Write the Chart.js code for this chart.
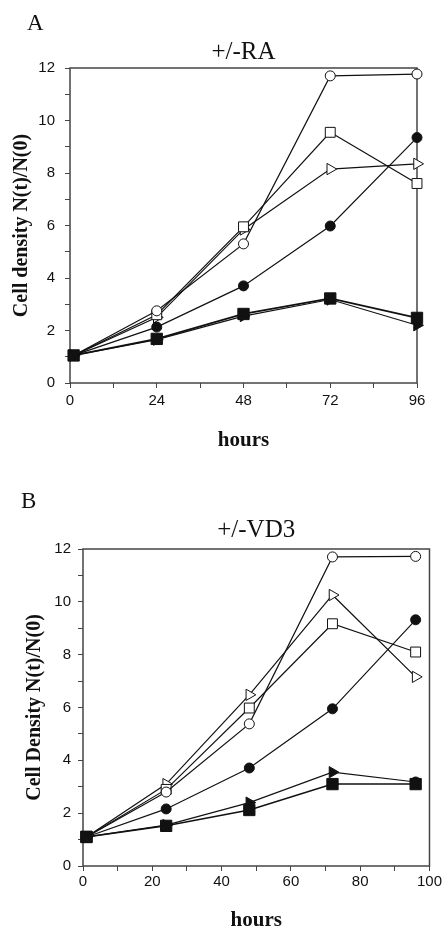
<!DOCTYPE html>
<html>
<head>
<meta charset="utf-8">
<script src="https://cdn.jsdelivr.net/npm/chart.js@4/dist/chart.umd.min.js"></script>
<style>
  html, body { margin: 0; padding: 0; background: #fff; }
  #wrap { position: relative; width: 444px; height: 933px; }
  canvas { position: absolute; left: 0; }
  #chartA { top: 0; }
  #chartB { top: 466px; }
</style>
</head>
<body>
<div id="wrap">
  <canvas id="chartA" width="444" height="466"></canvas>
  <canvas id="chartB" width="444" height="467"></canvas>
</div>
<script>
// time points (hours)
const hoursA = [1, 24, 48, 72, 96];
const hoursB = [1, 24, 48, 72, 96];

// panel A: +/-RA
const raOpenCircle = [1.05, 2.75, 5.3, 11.7, 11.77];
const raOpenSquare = [1.05, 2.6, 5.95, 9.55, 7.6];
const raOpenTriangle = [1.05, 2.5, 5.85, 8.15, 8.35];
const raFilledCircle = [1.05, 2.13, 3.7, 5.98, 9.35];
const raFilledSquare = [1.05, 1.68, 2.63, 3.22, 2.48];
const raFilledTriangle = [1.05, 1.65, 2.55, 3.18, 2.2];

// panel B: +/-VD3
const vdOpenCircle = [1.1, 2.8, 5.38, 11.7, 11.72];
const vdOpenSquare = [1.1, 2.9, 5.98, 9.17, 8.1];
const vdOpenTriangle = [1.1, 3.1, 6.48, 10.26, 7.16];
const vdFilledCircle = [1.1, 2.16, 3.71, 5.95, 9.32];
const vdFilledSquare = [1.1, 1.52, 2.12, 3.1, 3.1];
const vdFilledTriangle = [1.1, 1.55, 2.4, 3.55, 3.18];

const yTicks = [0, 2, 4, 6, 8, 10, 12];
const xTicksA = [0, 24, 48, 72, 96];
const xTicksB = [0, 20, 40, 60, 80, 100];

const SERIF = '"Liberation Serif", "Times New Roman", serif';
const SANS = '"Liberation Sans", Arial, sans-serif';
const INK = '#111';
const AXIS = '#444';

const framePlugin = {
  id: 'frame',
  beforeDatasetsDraw(chart) {
    const { ctx, chartArea: { left, top, right, bottom } } = chart;
    ctx.save();
    ctx.strokeStyle = AXIS;
    ctx.lineWidth = 1.5;
    ctx.strokeRect(left, top, right - left, bottom - top);
    ctx.restore();
  }
};

const letterPlugin = {
  id: 'panelLetter',
  afterDraw(chart, args, opts) {
    const ctx = chart.ctx;
    ctx.save();
    ctx.fillStyle = INK;
    ctx.font = '23px ' + SERIF;
    ctx.textBaseline = 'alphabetic';
    ctx.fillText(opts.text, opts.x, opts.y);
    ctx.restore();
  }
};

const toPoints = (xs, ys) => xs.map((x, i) => ({ x: x, y: ys[i] }));

const series = (data, style, filled, extra) => Object.assign({
  data: data,
  borderColor: INK,
  borderWidth: 1.2,
  pointStyle: style,
  pointRadius: style === 'circle' ? 5 : (style === 'rect' ? (filled ? 8 : 7) : 6.5),
  pointRotation: style === 'triangle' ? 90 : 0,
  pointBackgroundColor: filled ? INK : '#fff',
  pointBorderColor: INK,
  pointBorderWidth: 1,
  tension: 0,
  clip: false
}, extra || {});

const buildOptions = (cfg) => ({
  responsive: false,
  animation: false,
  layout: { padding: { left: 0, right: cfg.padRight, top: 0, bottom: 0 } },
  plugins: {
    legend: { display: false },
    tooltip: { enabled: false },
    title: {
      display: true,
      text: cfg.title,
      fullSize: false,
      color: INK,
      font: { family: SERIF, size: 25, weight: 'normal' },
      padding: { top: cfg.titleTop, bottom: cfg.titleBottom }
    },
    panelLetter: { text: cfg.letter, x: cfg.letterX, y: cfg.letterY }
  },
  scales: {
    x: {
      type: 'linear',
      min: 0,
      max: cfg.xMax,
      afterFit: (s) => { s.height = cfg.xHeight; },
      border: { display: false },
      grid: { drawOnChartArea: false, drawTicks: true, tickLength: 5, color: AXIS },
      ticks: {
        stepSize: cfg.xStep,
        autoSkip: false,
        maxRotation: 0,
        padding: cfg.xTickPad,
        color: INK,
        font: { family: SANS, size: 15 },
        callback: (v) => cfg.xLabels.includes(v) ? String(v) : ''
      },
      title: {
        display: true,
        text: 'hours',
        color: INK,
        font: { family: SERIF, size: 21, weight: 'bold' },
        padding: { top: 0, bottom: cfg.hoursPad }
      }
    },
    y: {
      min: 0,
      max: 12,
      afterFit: (s) => { s.width = cfg.yWidth; },
      border: { display: false },
      grid: { drawOnChartArea: false, drawTicks: true, tickLength: 5, color: AXIS },
      ticks: {
        stepSize: 1,
        autoSkip: false,
        padding: cfg.yTickPad,
        color: INK,
        font: { family: SANS, size: 15 },
        callback: (v) => yTicks.includes(v) ? String(v) : ''
      },
      title: {
        display: true,
        text: cfg.yTitle,
        color: INK,
        font: { family: SERIF, size: 20, weight: 'bold' },
        padding: { top: cfg.yTitlePad, bottom: 0 }
      }
    }
  }
});

new Chart(document.getElementById('chartA'), {
  type: 'line',
  data: {
    datasets: [
      series(toPoints(hoursA, raFilledSquare), 'rect', true, { borderWidth: 1.8 }),
      series(toPoints(hoursA, raFilledTriangle), 'triangle', true),
      series(toPoints(hoursA, raFilledCircle), 'circle', true),
      series(toPoints(hoursA, raOpenCircle), 'circle', false),
      series(toPoints(hoursA, raOpenSquare), 'rect', false),
      series(toPoints(hoursA, raOpenTriangle), 'triangle', false)
    ]
  },
  options: buildOptions({
    title: '+/-RA', letter: 'A', letterX: 27, letterY: 30,
    titleTop: 37, titleBottom: 1, padRight: 27,
    xMax: 96, xStep: 12, xLabels: xTicksA, xHeight: 83, xTickPad: 4, hoursPad: 13,
    yWidth: 70, yTickPad: 10, yTitlePad: 10,
    yTitle: 'Cell density N(t)/N(0)'
  }),
  plugins: [framePlugin, letterPlugin]
});

new Chart(document.getElementById('chartB'), {
  type: 'line',
  data: {
    datasets: [
      series(toPoints(hoursB, vdFilledSquare), 'rect', true, { borderWidth: 1.5 }),
      series(toPoints(hoursB, vdFilledTriangle), ['rect', 'triangle', 'triangle', 'triangle', 'circle'], true, {
        pointRadius: [8, 6.5, 6.5, 6.5, 5],
        pointRotation: [0, 90, 90, 90, 0]
      }),
      series(toPoints(hoursB, vdFilledCircle), 'circle', true),
      series(toPoints(hoursB, vdOpenCircle), 'circle', false),
      series(toPoints(hoursB, vdOpenSquare), 'rect', false),
      series(toPoints(hoursB, vdOpenTriangle), 'triangle', false)
    ]
  },
  options: buildOptions({
    title: '+/-VD3', letter: 'B', letterX: 21, letterY: 42,
    titleTop: 49, titleBottom: 4, padRight: 13,
    xMax: 100, xStep: 10, xLabels: xTicksB, xHeight: 67, xTickPad: 2, hoursPad: 0,
    yWidth: 83, yTickPad: 7, yTitlePad: 23,
    yTitle: 'Cell Density N(t)/N(0)'
  }),
  plugins: [framePlugin, letterPlugin]
});
</script>
</body>
</html>
